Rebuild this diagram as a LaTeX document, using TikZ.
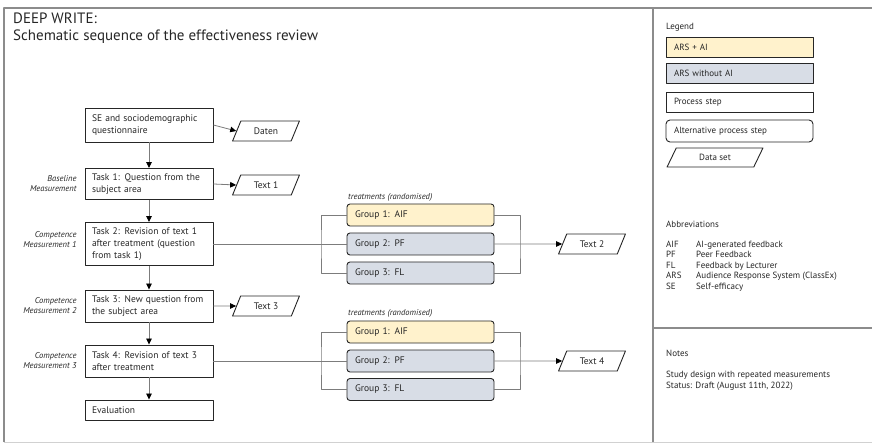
\documentclass[tikz,border=0pt]{standalone}
\usepackage{fontspec}
\setmainfont{PT Sans}
\usepackage{xcolor}
\usepackage{tikz}
\usetikzlibrary{arrows.meta,shapes.geometric}
\definecolor{dwInk}{HTML}{262626}
\definecolor{dwFrame}{HTML}{8C8C8C}
\definecolor{dwLine}{HTML}{7C7C7C}
\definecolor{dwAI}{HTML}{FFF2CC}
\definecolor{dwNoAI}{HTML}{D8DDE6}
\tikzset{
  dw diagram/.style={x=1pt, y=-1pt, font=\fontsize{9.5}{12}\selectfont, text=dwInk,
    line join=round},
  dw box/.style={draw=dwInk, fill=white, line width=0.9pt, align=left,
    text width=114pt, inner xsep=7pt, inner ysep=0pt, minimum height=#1},
  dw group/.style={dw box=22pt, text width=131pt, inner xsep=8pt, rounded corners=3pt,
    fill=dwNoAI},
  dw key/.style={dw box=20pt, text width=131pt, inner xsep=8pt,
    font=\fontsize{9}{11}\selectfont},
  dw data/.style={trapezium, trapezium left angle=60, trapezium right angle=120,
    trapezium stretches=true, draw=dwInk, fill=white, line width=0.9pt,
    minimum width=67pt, minimum height=20pt, inner sep=0pt},
  dw side/.style={font=\fontsize{8.5}{10}\selectfont\itshape, align=right, anchor=east},
  dw hint/.style={font=\fontsize{8.5}{10}\selectfont\itshape, anchor=west, inner sep=0pt},
  dw small/.style={font=\fontsize{9}{10.5}\selectfont, anchor=base west, inner sep=0pt},
  dw link/.style={draw=dwLine, line width=0.8pt},
  dw arrow/.style={dw link, -{Triangle[length=6pt,width=5.5pt,color=black]}},
  dw frame/.style={draw=dwFrame, line width=1.4pt}
}
\begin{document}
\begin{tikzpicture}[dw diagram]
\useasboundingbox (0,0) rectangle (872,443);
% frame
\draw[dw frame] (4,442) -- (4,8) -- (872,8);
\draw[dw frame] (653,8) -- (653,442);
\draw[dw frame] (653,328) -- (872,328);
\draw[draw=dwFrame!40, line width=1pt] (4,442) -- (872,442);

\node[anchor=base west, inner sep=0pt, font=\fontsize{15}{17}\selectfont] (title) at (13,24) {DEEP WRITE:};
\node[anchor=base west, inner sep=0pt, font=\fontsize{15}{17}\selectfont] (subtitle) at (13,41) {Schematic sequence of the effectiveness review};

% main sequence
\node[dw box=34pt] (se) at (149,125) {SE and sociodemographic\\questionnaire};
\node[dw box=31pt] (task1) at (149,184) {Task 1: Question from the\\subject area};
\node[dw box=43pt] (task2) at (149,244) {Task 2: Revision of text 1\\after treatment (question\\from task 1)};
\node[dw box=32pt] (task3) at (149,306) {Task 3: New question from\\the subject area};
\node[dw box=32pt] (task4) at (149,361) {Task 4: Revision of text 3\\after treatment};
\node[dw box=20pt] (eval) at (149,410) {Evaluation};

\node[dw side] (base) at (80,184) {Baseline\\Measurement};
\node[dw side] (comp1) at (80,240) {Competence\\Measurement 1};
\node[dw side] (comp2) at (80,306) {Competence\\Measurement 2};
\node[dw side] (comp3) at (80,361) {Competence\\Measurement 3};

\node[dw data] (daten) at (266,131) {Daten};
\node[dw data] (text1) at (266,185) {Text 1};
\node[dw data] (text3) at (266,306) {Text 3};

\draw[dw arrow] (se) -- (task1);
\draw[dw arrow] (task1) -- (task2);
\draw[dw arrow] (task2) -- (task3);
\draw[dw arrow] (task3) -- (task4);
\draw[dw arrow] (task4) -- (eval);
\draw[dw arrow] (se.east) -- (daten.west);
\draw[dw arrow] (task1.east) -- (text1.west);
\draw[dw arrow] (task3.east) -- (text3.west);

% treatments after task 2
\node[dw hint] (treat1) at (348,197) {treatments (randomised)};
\node[dw group, fill=dwAI] (grpA1) at (420.5,215) {Group 1: AIF};
\node[dw group] (grpA2) at (420.5,244) {Group 2: PF};
\node[dw group] (grpA3) at (420.5,273) {Group 3: FL};
\node[dw data] (text2) at (592,244) {Text 2};
\coordinate (splitA) at (321,244);
\coordinate (joinA) at (520,244);
\draw[dw link] (grpA1.west) -| (splitA) |- (grpA3.west);
\draw[dw link] (grpA1.east) -| (joinA) |- (grpA3.east);
\draw[dw link] (task2.east) -- (grpA2.west);
\draw[dw arrow] (grpA2.east) -- (text2.west);

% treatments after task 4
\node[dw hint] (treat2) at (348,313) {treatments (randomised)};
\node[dw group, fill=dwAI] (grpB1) at (420.5,332) {Group 1: AIF};
\node[dw group] (grpB2) at (420.5,361) {Group 2: PF};
\node[dw group] (grpB3) at (420.5,389.5) {Group 3: FL};
\node[dw data] (text4) at (592,361) {Text 4};
\coordinate (splitB) at (321,361);
\coordinate (joinB) at (520,361);
\draw[dw link] (grpB1.west) -| (splitB) |- (grpB3.west);
\draw[dw link] (grpB1.east) -| (joinB) |- (grpB3.east);
\draw[dw link] (task4.east) -- (grpB2.west);
\draw[dw arrow] (grpB2.east) -- (text4.west);

% legend
\node[dw small] (legend) at (666,30) {Legend};
\node[dw key, fill=dwAI] (keyAI) at (739.5,47) {ARS + AI};
\node[dw key, fill=dwNoAI] (keyNoAI) at (739.5,73.5) {ARS without AI};
\node[dw key] (keyStep) at (739.5,102) {Process step};
\node[dw key, minimum height=22pt, rounded corners=4pt] (keyAlt) at (739.5,131) {Alternative process step};
\node[dw data, minimum width=96pt, minimum height=19pt, font=\fontsize{9}{11}\selectfont] (keyData) at (715,157.5) {Data set};

% abbreviations
\node[dw small] (abbrev) at (666,227.5) {Abbreviations};
\foreach \abbr/\desc [count=\i] in {AIF/AI-generated feedback, PF/Peer Feedback,
    FL/Feedback by Lecturer, ARS/Audience Response System (ClassEx), SE/Self-efficacy}
{
  \node[dw small] (abbr\i) at (666,237+10.5*\i) {\abbr};
  \node[dw small] (desc\i) at (696,237+10.5*\i) {\desc};
}

% notes
\node[dw small] (notes) at (666,356.5) {Notes};
\node[dw small] (note1) at (666,377.5) {Study design with repeated measurements};
\node[dw small] (note2) at (666,388) {Status: Draft (August 11th, 2022)};
\end{tikzpicture}
\end{document}
